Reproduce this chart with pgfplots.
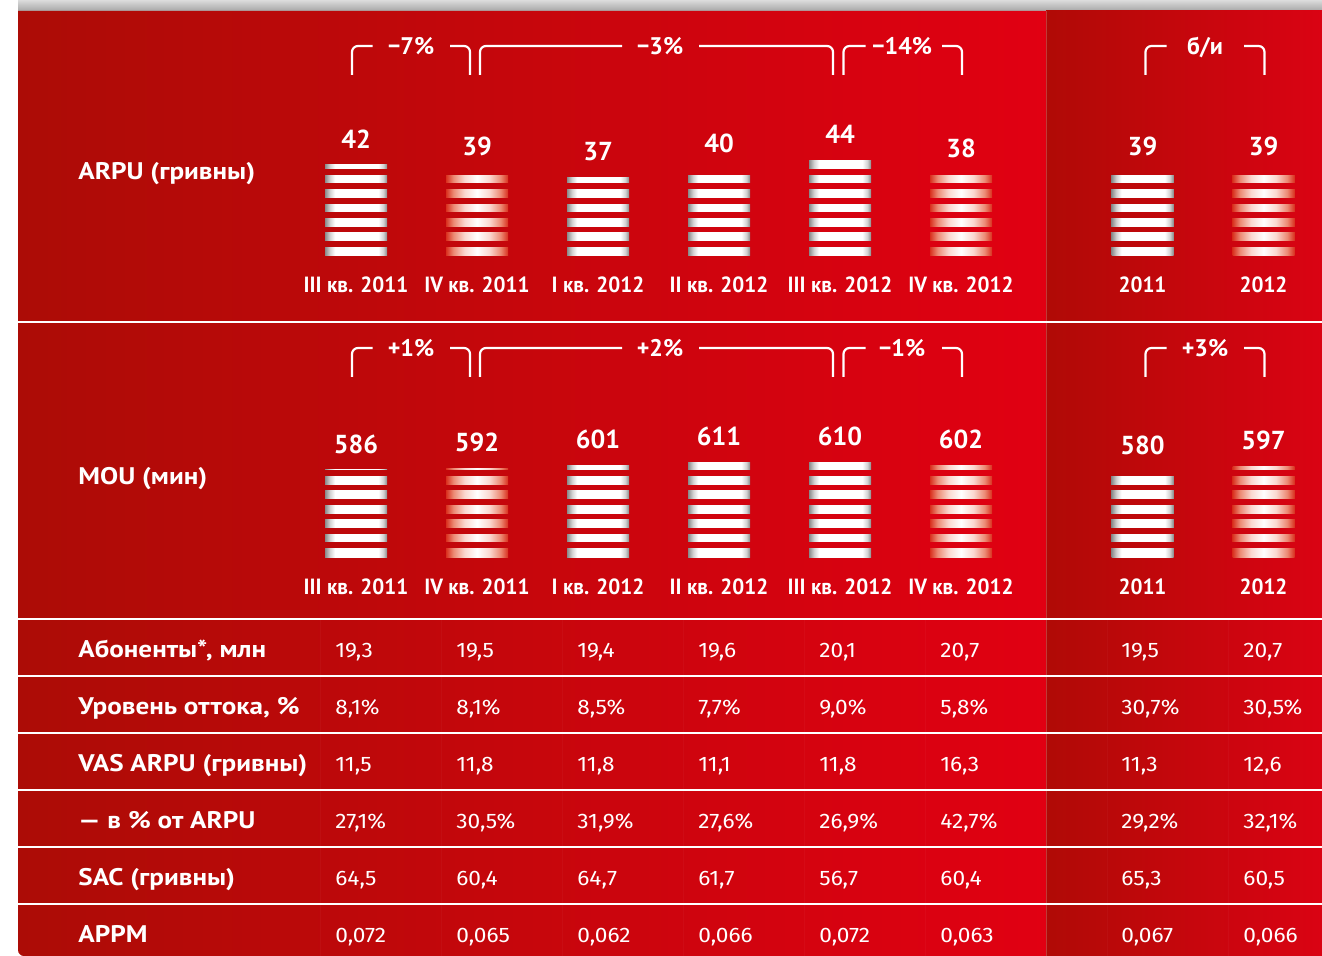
\documentclass[border=0pt]{standalone}
\usepackage{fontspec}
\setmainfont{PT Sans}
\newfontfamily\fira{Fira Sans}[FakeStretch=1.08]
\newfontfamily\ptc{PT Sans}[FakeStretch=0.96]
\newfontfamily\ptw{PT Sans}[FakeStretch=1.13]
\usepackage{pgfplots}
\pgfplotsset{compat=1.18}

\definecolor{bgLL}{HTML}{AC0C06}
\definecolor{bgLR}{HTML}{E10012}
\definecolor{bgRL}{HTML}{B00A06}
\definecolor{bgRR}{HTML}{DA0313}
\definecolor{topA}{HTML}{DCDCDC}
\definecolor{topB}{HTML}{A6A6A6}
\definecolor{sgrey}{HTML}{8A8A8A}
\definecolor{fred}{HTML}{D9301E}
\definecolor{fmid}{HTML}{EC8A74}
\definecolor{fpale}{HTML}{FAD8D0}

\pgfdeclarehorizontalshading{shSolid}{100bp}{color(0bp)=(sgrey); color(25bp)=(sgrey); color(29bp)=(gray!35); color(33bp)=(white); color(68bp)=(white); color(72bp)=(gray!35); color(75bp)=(sgrey); color(100bp)=(sgrey)}
\pgfdeclarehorizontalshading{shFade}{100bp}{color(0bp)=(fred); color(25bp)=(fred); color(31bp)=(fmid); color(40bp)=(fpale); color(50bp)=(white); color(60bp)=(fpale); color(69bp)=(fmid); color(75bp)=(fred); color(100bp)=(fred)}

\pgfplotsset{
  panel/.style={
    anchor=south west, scale only axis, width=661pt, height=50pt,
    xmin=-2.94215, xmax=7.98347,
    axis x line*=bottom, axis y line*=left,
    axis line style={draw=none},
    major tick length=0pt, tick style={draw=none},
    ytick=\empty,
    xtick={0,1,2,3,4,5,6.5,7.5},
    xticklabels={III кв. 2011,IV кв. 2011,I кв. 2012,II кв. 2012,III кв. 2012,IV кв. 2012,2011,2012},
    xticklabel style={font=\ptc\bfseries\fontsize{11}{13}\selectfont, text=white, anchor=base, inner sep=0pt, yshift=-18.5pt},
    /pgf/number format/assume math mode=true,
  },
  barS/.style={ybar, bar width=31pt, bar shift=0pt, draw=none, shading=shSolid, nodes near coords,
    every node near coord/.append style={font=\bfseries\fontsize{13}{15}\selectfont, text=white, anchor=south, inner sep=0pt, yshift=8pt}},
  barF/.style={ybar, bar width=31pt, bar shift=0pt, draw=none, shading=shFade, nodes near coords,
    every node near coord/.append style={font=\bfseries\fontsize{13}{15}\selectfont, text=white, anchor=south, inner sep=0pt, yshift=8pt}},
}

\newcommand\brk[8]{%
  \draw[white, line width=1.1pt, rounded corners=3pt] (#1,#6) -- (#1,#5) -- (#2,#5);
  \draw[white, line width=1.1pt, rounded corners=3pt] (#3,#5) -- (#4,#5) -- (#4,#6);
  \node[anchor=base, inner sep=0pt, text=white, font=\bfseries\fontsize{12}{14}\selectfont] at (#8,{#5+8.5}) {#7};
}
\tikzset{lab/.style={anchor=base west, inner sep=0pt, text=white, font=\ptw\bfseries\fontsize{12}{14}\selectfont},
         val/.style={anchor=base west, inner sep=0pt, text=white, font=\fira\fontsize{10.5}{12}\selectfont}}
\newcommand\trow[9]{%
  \node[lab] at (78,#1) {#2};
  \node[val] at (335,#1) {#3};
  \node[val] at (456,#1) {#4};
  \node[val] at (577,#1) {#5};
  \node[val] at (698,#1) {#6};
  \node[val] at (819,#1) {#7};
  \node[val] at (940,#1) {#8};
  \node[val] at (1121,#1) {#9};
}
\newcommand\trowlast[2]{\node[val] at (1243,#1) {#2};}

\begin{document}
\begin{tikzpicture}
\begin{scope}[x=0.5pt,y=-0.5pt]
  \fill[white] (0,0) rectangle (1322,956);
  \shade[top color=topA, bottom color=topB] (18,0) rectangle (1322,11);
  \shade[left color=bgLL, right color=bgLR] (1046,11) -- (18,11) [rounded corners=3pt] -- (18,956) [sharp corners] -- (1046,956) -- cycle;
  \shade[left color=bgRL, right color=bgRR] (1046,11) rectangle (1322,956);
\end{scope}

% ARPU panel (UAH): one plot per bar so that each bar gets its own shading
\begin{axis}[panel, at={(0pt,-128pt)}, ymin=4.5, ymax=45.65]
  \addplot[barS] coordinates {(0,42)};
  \addplot[barF] coordinates {(1,39)};
  \addplot[barS] coordinates {(2,37)};
  \addplot[barS] coordinates {(3,40)};
  \addplot[barS] coordinates {(4,44)};
  \addplot[barF] coordinates {(5,38)};
  \addplot[barS] coordinates {(6.5,39)};
  \addplot[barF] coordinates {(7.5,39)};
\end{axis}

% MOU panel (min)
\begin{axis}[panel, at={(0pt,-278.65pt)}, ymin=300, ymax=627.33]
  \addplot[barS] coordinates {(0,586)};
  \addplot[barF] coordinates {(1,592)};
  \addplot[barS] coordinates {(2,601)};
  \addplot[barS] coordinates {(3,611)};
  \addplot[barS] coordinates {(4,610)};
  \addplot[barF] coordinates {(5,602)};
  \addplot[barS] coordinates {(6.5,580)};
  \addplot[barF] coordinates {(7.5,597)};
\end{axis}

\begin{scope}[x=0.5pt,y=-0.5pt]
  % stripe gaps
  \foreach \b in {256,557.3} {
    \foreach \n in {0,...,5} {
      \shade[left color=bgLL, right color=bgLR] (18,{\b-14.4*(\n+1)}) rectangle (1046,{\b-14.4*\n-9.7});
      \shade[left color=bgRL, right color=bgRR] (1046,{\b-14.4*(\n+1)}) rectangle (1322,{\b-14.4*\n-9.7});
    }
  }
  % separators
  \draw[white, opacity=0.2, line width=0.5pt] (1046,11) -- (1046,956);
  \foreach \xx in {320,441,562,683,804,925,1107,1228} {
    \draw[white, opacity=0.03, line width=0.5pt] (\xx,620) -- (\xx,956);
  }
  \foreach \yy in {322,619,676,733,790,847,904} {
    \fill[white] (18,{\yy-1.2}) rectangle (1322,{\yy+1.2});
  }
  % brackets ARPU
  \brk{352}{372.5}{450}{470}{46}{75}{−7\%}{411}
  \brk{480}{622}{699}{833}{46}{75}{−3\%}{660}
  \brk{843.5}{865.5}{942}{962}{46}{75}{−14\%}{902}
  \brk{1145.5}{1166.5}{1244}{1264.5}{46}{75}{б/и}{1205}
  % brackets MOU
  \brk{352}{372.5}{450}{470}{348}{377}{+1\%}{411}
  \brk{480}{622}{699}{833}{348}{377}{+2\%}{660}
  \brk{843.5}{865.5}{942}{962}{348}{377}{−1\%}{902}
  \brk{1145.5}{1166.5}{1244}{1264.5}{348}{377}{+3\%}{1205}
  % panel labels
  \node[lab] at (78,180) {ARPU (гривны)};
  \node[lab] at (78,485) {MOU (мин)};
  % table
  \trow{657}{Абоненты*, млн}{19,3}{19,5}{19,4}{19,6}{20,1}{20,7}{19,5}\trowlast{657}{20,7}
  \trow{714}{Уровень оттока, \%}{8,1\%}{8,1\%}{8,5\%}{7,7\%}{9,0\%}{5,8\%}{30,7\%}\trowlast{714}{30,5\%}
  \trow{771}{VAS ARPU (гривны)}{11,5}{11,8}{11,8}{11,1}{11,8}{16,3}{11,3}\trowlast{771}{12,6}
  \trow{828}{— в \% от ARPU}{27,1\%}{30,5\%}{31,9\%}{27,6\%}{26,9\%}{42,7\%}{29,2\%}\trowlast{828}{32,1\%}
  \trow{885}{SAC (гривны)}{64,5}{60,4}{64,7}{61,7}{56,7}{60,4}{65,3}\trowlast{885}{60,5}
  \trow{942}{APPM}{0,072}{0,065}{0,062}{0,066}{0,072}{0,063}{0,067}\trowlast{942}{0,066}
\end{scope}
\pgfresetboundingbox
\useasboundingbox[x=0.5pt,y=-0.5pt] (0,0) rectangle (1322,956);
\end{tikzpicture}
\end{document}
